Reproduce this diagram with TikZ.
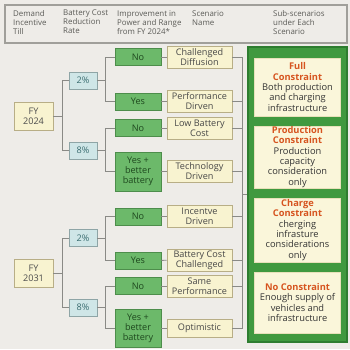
\documentclass[tikz,border=0pt]{standalone}
\usepackage{fontspec}
\setmainfont{Open Sans}
\usetikzlibrary{calc}

\definecolor{bgGray}{HTML}{EEECE8}
\definecolor{hdrLine}{HTML}{A09F9A}
\definecolor{hdrText}{HTML}{5C5C58}
\definecolor{creamFill}{HTML}{F8F3D0}
\definecolor{creamLine}{HTML}{B8AE86}
\definecolor{cyanFill}{HTML}{CFE6E7}
\definecolor{cyanLine}{HTML}{8EA5A6}
\definecolor{cyanText}{HTML}{3A6D70}
\definecolor{greenFill}{HTML}{6CB96A}
\definecolor{greenLine}{HTML}{4D8D4B}
\definecolor{greenText}{HTML}{1E481E}
\definecolor{bigGreen}{HTML}{40993F}
\definecolor{bigGreenLine}{HTML}{2E7D30}
\definecolor{panelFill}{HTML}{FAF6DA}
\definecolor{panelLine}{HTML}{E8E1BA}
\definecolor{titleOrange}{HTML}{D6541F}
\definecolor{linkGray}{HTML}{8A8A86}

\tikzset{
  hdr/.style={anchor=north west, inner sep=0pt, align=left, text=hdrText,
    font=\fontsize{7.9}{9}\selectfont},
  box/.style={draw, line width=0.9pt, inner sep=0pt, align=center,
    font=\fontsize{9.1}{10}\selectfont},
  fybox/.style={box, fill=creamFill, draw=creamLine, text=black!70,
    minimum width=39, minimum height=28},
  ratebox/.style={box, fill=cyanFill, draw=cyanLine, text=cyanText,
    minimum width=28, minimum height=17},
  impbox/.style={box, fill=greenFill, draw=greenLine, text=greenText,
    minimum width=46, minimum height=17},
  scnbox/.style={box, fill=creamFill, draw=creamLine, text=black!72,
    minimum width=65, minimum height=22},
  panel/.style={draw=panelLine, line width=0.9pt, fill=panelFill, inner sep=0pt,
    align=center, text=black!80, minimum width=86,
    font=\fontsize{9.3}{10.3}\selectfont},
  link/.style={draw=linkGray, line width=0.9pt}
}
\newcommand{\ttl}[1]{{\color{titleOrange}\bfseries #1}}

\begin{document}
\begin{tikzpicture}[x=1pt, y=-1pt]
  \def\xFy{33.5};
  \def\xRate{83};
  \def\xImp{138};
  \def\xScn{199.5};
  \def\xPanel{297.5};

  \useasboundingbox[fill=bgGray] (0,0) rectangle (350,349);

  % column titles
  \draw[draw=hdrLine, line width=1.8pt] (5,5) rectangle (347,43);
  \node[hdr] (hDemand) at (13,10) {Demand\\Incentive\\Till};
  \node[hdr] (hRate) at (63,10) {Battery Cost\\Reduction\\Rate};
  \node[hdr] (hImp) at (117,10) {Improvement in\\Power and Range\\from FY 2024*};
  \node[hdr] (hName) at (192,10) {Scenario\\Name};
  \node[hdr] (hSub) at (273,10) {Sub-scenarios\\under Each\\Scenario};

  % sub-scenarios
  \node[draw=bigGreenLine, line width=2pt, fill=bigGreen, minimum width=99,
    minimum height=295, inner sep=0pt] (grn) at (\xPanel,194.5) {};
  \node[panel, minimum height=58] (full) at (\xPanel,87)
    {\ttl{Full}\\\ttl{Constraint}\\Both production\\and charging\\infrastructure};
  \node[panel, minimum height=62] (prod) at (\xPanel,157)
    {\ttl{Production}\\\ttl{Constraint}\\Production\\capacity\\consideration\\only};
  \node[panel, minimum height=64] (charge) at (\xPanel,230)
    {\ttl{Charge}\\\ttl{Constraint}\\cherging\\infrasture\\considerations\\only};
  \node[panel, minimum height=61] (nocon) at (\xPanel,302.5)
    {\ttl{No Constraint}\\Enough supply of\\vehicles and\\infrastructure};

  % FY 2024
  \begin{scope}
    \node[fybox] (fyA) at (\xFy,116) {FY\\2024};
    \node[ratebox] (rateAlo) at (\xRate,80.5) {2\%};
    \node[ratebox] (rateAhi) at (\xRate,150.5) {8\%};
    \node[impbox] (impAa) at (\xImp,57) {No};
    \node[impbox] (impAb) at (\xImp,101.5) {Yes};
    \node[impbox] (impAc) at (\xImp,128) {No};
    \node[impbox, minimum height=39] (impAd) at (\xImp,171.5) {Yes +\\better\\battery};
    \node[scnbox] (diffusion) at (\xScn,57) {Challenged\\Diffusion};
    \node[scnbox] (perfDriven) at (\xScn,101.5) {Performance\\Dirven};
    \node[scnbox] (lowCost) at (\xScn,128) {Low Battery\\Cost};
    \node[scnbox] (techDriven) at (\xScn,171.5) {Technology\\Driven};
  \end{scope}

  % FY 2031
  \begin{scope}
    \node[fybox] (fyB) at (\xFy,273.5) {FY\\2031};
    \node[ratebox] (rateBlo) at (\xRate,238) {2\%};
    \node[ratebox] (rateBhi) at (\xRate,307.5) {8\%};
    \node[impbox] (impBa) at (\xImp,216.5) {No};
    \node[impbox] (impBb) at (\xImp,260.5) {Yes};
    \node[impbox] (impBc) at (\xImp,286) {No};
    \node[impbox, minimum height=38] (impBd) at (\xImp,328.5) {Yes +\\better\\battery};
    \node[scnbox] (incDriven) at (\xScn,216.5) {Incentve\\Driven};
    \node[scnbox] (costChall) at (\xScn,260) {Battery Cost\\Challenged};
    \node[scnbox] (samePerf) at (\xScn,286) {Same\\Performance};
    \node[scnbox, minimum height=18] (optimistic) at (\xScn,328.5) {Optimistic};
  \end{scope}

  % connectors
  \draw[link] (fyA.east) -- +(9,0) |- (rateAlo.west);
  \draw[link] (fyA.east) -- +(9,0) |- (rateAhi.west);
  \draw[link] (rateAlo.east) -- +(8,0) |- (impAa.west);
  \draw[link] (rateAlo.east) -- +(8,0) |- (impAb.west);
  \draw[link] (rateAhi.east) -- +(8,0) |- (impAc.west);
  \draw[link] (rateAhi.east) -- +(8,0) |- (impAd.west);
  \draw[link] (fyB.east) -- +(9,0) |- (rateBlo.west);
  \draw[link] (fyB.east) -- +(9,0) |- (rateBhi.west);
  \draw[link] (rateBlo.east) -- +(8,0) |- (impBa.west);
  \draw[link] (rateBlo.east) -- +(8,0) |- (impBb.west);
  \draw[link] (rateBhi.east) -- +(8,0) |- (impBc.west);
  \draw[link] (rateBhi.east) -- +(8,0) |- (impBd.west);

  \draw[link] (impAa) -- (diffusion);
  \draw[link] (impAb) -- (perfDriven);
  \draw[link] (impAc) -- (lowCost);
  \draw[link] (impAd) -- (techDriven);
  \draw[link] (impBa) -- (incDriven);
  \draw[link] (impBb) -- (costChall);
  \draw[link] (impBc) -- (samePerf);
  \draw[link] (impBd) -- (optimistic);

  \foreach \s in {diffusion, perfDriven, lowCost, techDriven,
                  incDriven, costChall, samePerf, optimistic}
    \draw[link] (\s.east) -- +(10,0) |- (grn.west);
\end{tikzpicture}
\end{document}
